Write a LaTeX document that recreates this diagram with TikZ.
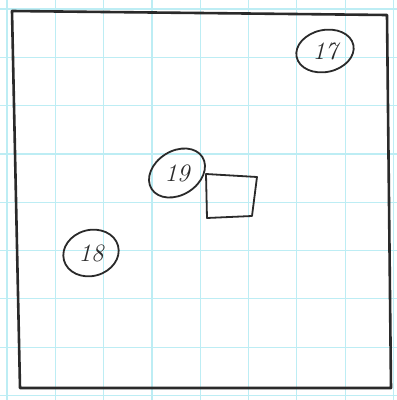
\documentclass[tikz,border=0pt]{standalone}
\usetikzlibrary{shapes.geometric}
\definecolor{gridcyan}{HTML}{BDEDF4}
\definecolor{ink}{HTML}{2A2A2A}
\tikzset{
  gridline/.style={draw=gridcyan, line width=1.2pt},
  frameline/.style={draw=ink, line width=2.6pt, line cap=round, line join=round},
  label/.style={inner sep=0pt, font=\fontsize{25}{25}\selectfont\itshape, text=ink},
  ring/.style={draw=ink, line width=1.8pt},
  boxline/.style={draw=ink, line width=1.8pt, line join=round}
}
\begin{document}
\begin{tikzpicture}[x=1pt,y=-1pt]
\useasboundingbox (0,0) rectangle (397,400);
\fill[white] (0,0) rectangle (397,400);
% grid
\foreach \i in {0,...,8} {
  \draw[gridline] ({7+48.3*\i},0) -- ({7+48.3*\i},400);
  \draw[gridline] (0,{9+48.3*\i}) -- (397,{9+48.3*\i});
}
% frame
\coordinate (tl) at (12,11);
\coordinate (tr) at (387,15);
\coordinate (br) at (391,388);
\coordinate (bl) at (20,388);
\draw[frameline] (tl) -- (tr) -- (br) -- (bl) -- cycle;
% bubbles
\node[label] (n17) at (325,51) {17};
\node[label] (n19) at (177,173) {19};
\node[label] (n18) at (91,253) {18};
\draw[ring, rotate around={12:(n17)}] (n17) ellipse [x radius=29pt, y radius=21pt];
\draw[ring, rotate around={32:(n19)}] (n19) ellipse [x radius=30pt, y radius=22pt];
\draw[ring, rotate around={15:(n18)}] (n18) ellipse [x radius=28pt, y radius=23pt];
% box
\coordinate (b1) at (206,174);
\coordinate (b2) at (257,177);
\coordinate (b3) at (252,216);
\coordinate (b4) at (207,218);
\draw[boxline] (b1) -- (b2) -- (b3) -- (b4) -- cycle;
\end{tikzpicture}
\end{document}
